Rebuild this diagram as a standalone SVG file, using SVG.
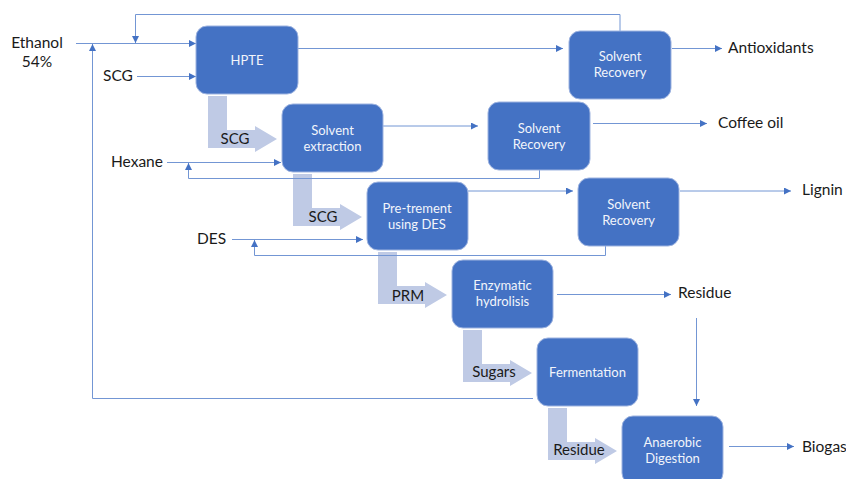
<svg xmlns="http://www.w3.org/2000/svg" width="846" height="479" viewBox="0 0 846 479">
<defs>
<marker id="ah" markerUnits="userSpaceOnUse" markerWidth="7" markerHeight="7" refX="7" refY="3.5" orient="auto">
<path d="M0,0 L7,3.5 L0,7 z" fill="#4472C4"/>
</marker>
<style>
.node rect{fill:#4472C4;stroke:#9DB3E0;stroke-width:1}
.node text{fill:#F2F5FB;font-family:Lato,"Open Sans",sans-serif;font-size:13px;text-anchor:middle}
.conn path{fill:none;stroke:#7396D4;stroke-width:1;marker-end:url(#ah)}
.bar{fill:#BFCAE5}
.lbl{fill:#1A1A1A;font-family:Lato,"Open Sans",sans-serif;font-size:15.5px}
.blbl{fill:#1A1A1A;font-family:Lato,"Open Sans",sans-serif;font-size:15px;text-anchor:middle}
</style>
</defs>
<rect width="846" height="479" fill="#FFFFFF"/>

<g id="flows">
<path class="bar" d="M208,96 H227 V130 H255 V126 L277,139 L255,152 V148 H208 Z"/>
<text class="blbl" x="235" y="144">SCG</text>
<path class="bar" d="M293,174 H312 V208 H340 V204 L362,217 L340,230 V226 H293 Z"/>
<text class="blbl" x="323" y="222">SCG</text>
<path class="bar" d="M378,252 H397 V286 H425 V282 L447,295 L425,308 V304 H378 Z"/>
<text class="blbl" x="408" y="301">PRM</text>
<path class="bar" d="M463,330 H482 V364 H510 V360 L532,373 L510,386 V382 H463 Z"/>
<text class="blbl" x="494" y="377">Sugars</text>
<path class="bar" d="M548,408 H567 V442 H595 V438 L617,451 L595,464 V460 H548 Z"/>
<text class="blbl" x="579" y="455">Residue</text>
</g>

<g id="connectors" class="conn">
<path d="M76,43.5 H196"/>
<path d="M137,76.5 H196"/>
<path d="M298,48.5 H563"/>
<path d="M672,48.5 H722"/>
<path d="M620,31 V14.5 H135.5 V43"/>
<path d="M383,126 H478"/>
<path d="M593,123.5 H707"/>
<path d="M167,162.5 H281"/>
<path d="M539.5,170 V178.5 H188.5 V163"/>
<path d="M468,191 H573"/>
<path d="M680,191 H791"/>
<path d="M232,239.5 H363"/>
<path d="M605.5,246 V255.5 H254.5 V240"/>
<path d="M557,294.5 H671"/>
<path d="M696.5,318 V406"/>
<path d="M533,398.5 H92.5 V44"/>
<path d="M729,446.5 H794"/>
</g>

<g id="labels">
<text class="lbl" x="37" y="48" text-anchor="middle">Ethanol</text>
<text class="lbl" x="37" y="67" text-anchor="middle">54%</text>
<text class="lbl" x="103" y="81">SCG</text>
<text class="lbl" x="111" y="167">Hexane</text>
<text class="lbl" x="197" y="244">DES</text>
<text class="lbl" x="728" y="53">Antioxidants</text>
<text class="lbl" x="718" y="128">Coffee oil</text>
<text class="lbl" x="802" y="195">Lignin</text>
<text class="lbl" x="678" y="298">Residue</text>
<text class="lbl" x="802" y="452">Biogas</text>
</g>

<g id="hpte" class="node"><rect x="196" y="26" width="102" height="68" rx="11"/><text x="247" y="64.5">HPTE</text></g>
<g id="sr1" class="node"><rect x="569" y="31" width="102" height="68" rx="11"/><text x="620" y="61">Solvent</text><text x="620" y="77">Recovery</text></g>
<g id="se" class="node"><rect x="282" y="104" width="101" height="68" rx="11"/><text x="332.5" y="134.5">Solvent</text><text x="332.5" y="150.5">extraction</text></g>
<g id="sr2" class="node"><rect x="488" y="102" width="102" height="68" rx="11"/><text x="539" y="132.5">Solvent</text><text x="539" y="148.5">Recovery</text></g>
<g id="pt" class="node"><rect x="367" y="182" width="101" height="68" rx="11"/><text x="417" y="212.5">Pre-trement</text><text x="417" y="228.5">using DES</text></g>
<g id="sr3" class="node"><rect x="578" y="178" width="101" height="68" rx="11"/><text x="628.5" y="208.5">Solvent</text><text x="628.5" y="224.5">Recovery</text></g>
<g id="eh" class="node"><rect x="452" y="260" width="101" height="68" rx="11"/><text x="502.5" y="290">Enzymatic</text><text x="502.5" y="306">hydrolisis</text></g>
<g id="ferm" class="node"><rect x="537" y="338" width="101" height="68" rx="11"/><text x="587.5" y="376.5">Fermentation</text></g>
<g id="ad" class="node"><rect x="622" y="416" width="101" height="68" rx="11"/><text x="672.5" y="446.5">Anaerobic</text><text x="672.5" y="462.5">Digestion</text></g>
</svg>
